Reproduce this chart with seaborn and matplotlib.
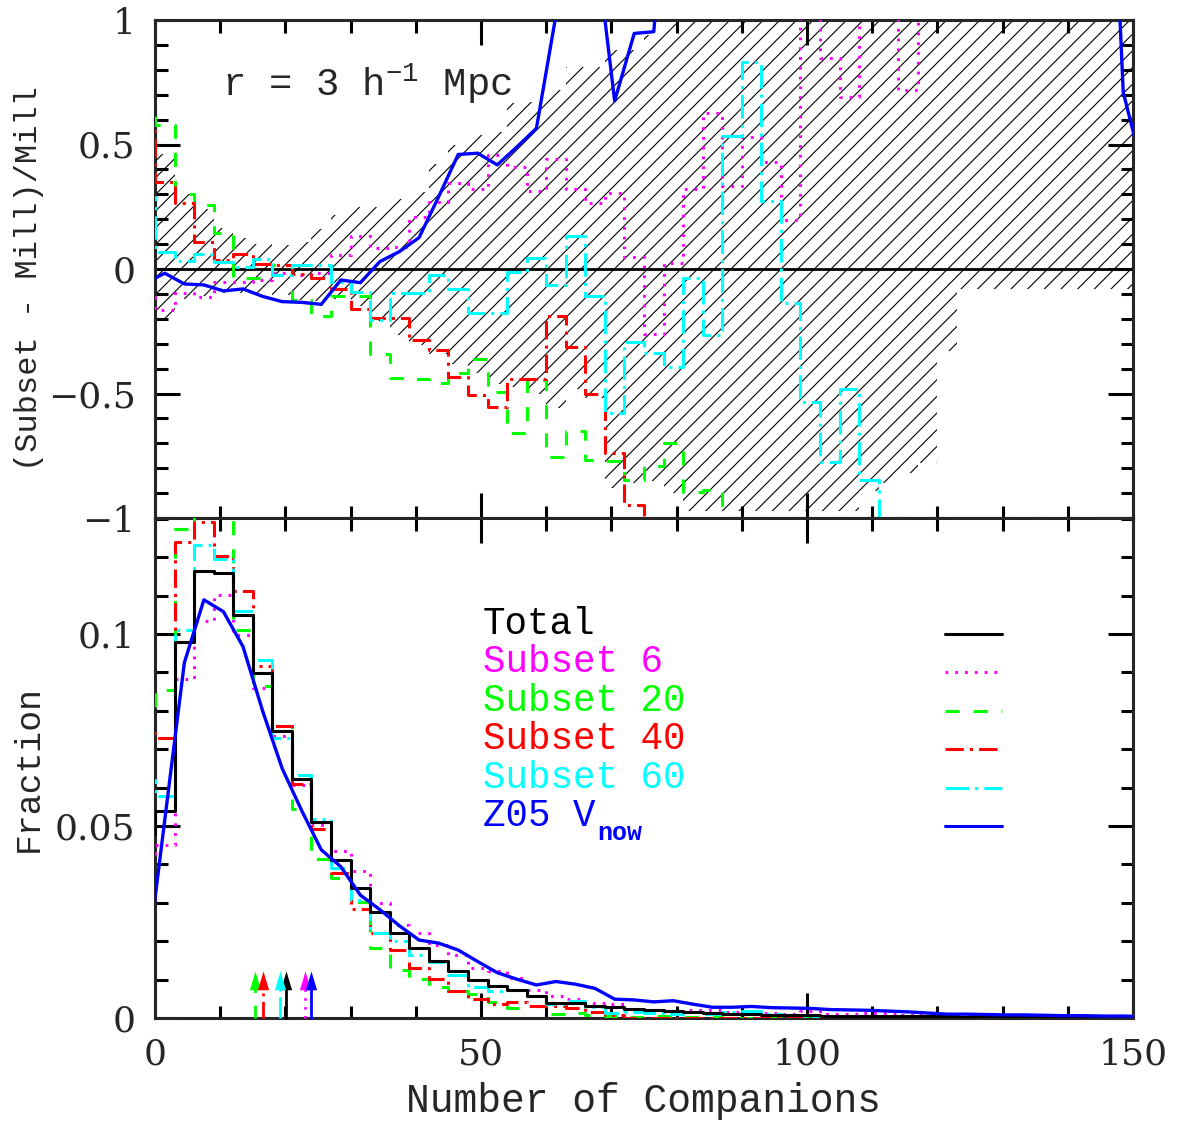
import numpy as np
import pandas as pd
import matplotlib
matplotlib.use("Agg")
import matplotlib.pyplot as plt
from matplotlib.ticker import MultipleLocator, FuncFormatter
import seaborn as sns

# ---------------------------------------------------------------- data
# histogram bins of width 3; the first bin sits just left of the origin
bin_width = 3
bin_start = np.arange(-3, 150, bin_width)

# fraction of galaxies per bin for the full sample
total_frac = [0.048, 0.054, 0.098, 0.1164, 0.116, 0.105, 0.0898, 0.0748, 0.0622, 0.0511,
              0.0411, 0.0338, 0.0277, 0.0222, 0.0182, 0.0149, 0.0123, 0.0099, 0.0084, 0.0073,
              0.0056, 0.0040, 0.0038, 0.0031, 0.0028, 0.0023, 0.0020, 0.0017, 0.0015, 0.0013,
              0.0011, 0.0010, 0.0009, 0.0008, 0.0007, 0.0006, 0.0006, 0.0005, 0.0005, 0.0004,
              0.0004, 0.0004, 0.0003, 0.0003, 0.0003, 0.0002, 0.0002, 0.0002, 0.0002, 0.0001,
              0.0001]

# (Subset - Mill)/Mill per bin
rel_sub6 = [-0.111, -0.165, -0.098, -0.111, -0.051, -0.051, -0.044, -0.017, -0.024, -0.017,
            0.056, 0.134, 0.083, 0.09, 0.21, 0.27, 0.344, 0.32, 0.458, 0.41,
            0.313, 0.442, 0.321, 0.264, 0.304, 0.05, -0.261, 0.023, 0.32, 0.625,
            0.335, 0.531, 0.431, 0.197, 1.5, 0.849, 0.692, 1.5, 1.5, 0.719,
            1.5, 1.5, 1.5, 1.5, 1.5, 1.5, 1.5, 1.5, 1.5, 1.5,
            1.5]
rel_sub20 = [0.645, 0.58, 0.30, 0.257, 0.143, -0.037, -0.037, 0.016, -0.124, -0.19,
             -0.11, -0.11, -0.343, -0.436, -0.44, -0.457, -0.419, -0.36, -0.493, -0.657,
             -0.446, -0.754, -0.649, -0.767, -0.77, -0.847, -0.791, -0.697, -0.897, -0.888,
             -1, -1, -1, -1, -1, -1, -1, -1, -1, -1,
             -1, -1, -1, -1, -1, -1, -1, -1, -1, -1,
             -1]
rel_sub40 = [0.578, 0.35, 0.264, 0.11, 0.036, 0.059, 0.02, 0.018, -0.02, -0.037,
             -0.082, -0.162, -0.198, -0.198, -0.285, -0.325, -0.432, -0.506, -0.555, -0.44,
             -0.44, -0.19, -0.312, -0.5, -0.738, -0.948, -1, -1, -1, -1,
             -1, -1, -1, -1, -1, -1, -1, -1, -1, -1,
             -1, -1, -1, -1, -1, -1, -1, -1, -1, -1,
             -1]
rel_sub60 = [0.29, 0.07, 0.032, 0.059, 0.03, 0.009, 0.039, -0.024, 0.016, 0.016,
             -0.051, -0.091, -0.205, -0.098, -0.098, -0.024, -0.082, -0.178, -0.178, -0.011,
             0.045, -0.064, 0.134, -0.11, -0.58, -0.292, -0.339, -0.395, -0.037, -0.265,
             0.535, 0.83, 0.273, -0.138, -0.533, -0.774, -0.483, -0.847, -1, -1,
             -1, -1, -1, -1, -1, -1, -1, -1, -1, -1,
             -1]

# scatter band of the relative difference (upper / lower edge per bin)
band_hi = [0.46, 0.46, 0.30, 0.24, 0.163, 0.123, 0.10, 0.097, 0.11, 0.16,
           0.217, 0.25, 0.25, 0.28, 0.31, 0.42, 0.50, 0.537, 0.55, 0.666,
           0.67, 0.72, 0.81, 0.81, 0.88, 0.88, 0.94, 1.5, 1.5, 1.5,
           1.5, 1.5, 1.5, 1.5, 1.5, 1.5, 1.5, 1.5, 1.5, 1.5,
           1.5, 1.5, 1.5, 1.5, 1.5, 1.5, 1.5, 1.5, 1.5, 1.5,
           1.5]
band_lo = [-0.21, -0.21, -0.12, -0.11, -0.095, -0.095, -0.10, -0.105, -0.125, -0.13,
           -0.12, -0.15, -0.21, -0.265, -0.305, -0.34, -0.38, -0.418, -0.46, -0.472,
           -0.5, -0.56, -0.48, -0.52, -0.88, -0.86, -0.85, -0.9, -0.97, -0.97,
           -0.97, -0.97, -0.97, -0.97, -0.97, -0.97, -0.97, -0.89, -0.86, -0.82,
           -0.78, -0.33, -0.08, -0.08, -0.08, -0.08, -0.08, -0.08, -0.08, -0.08,
           -0.08]

# Z05 V_now model, sampled at bin centres (-1.5 ... 151.5)
z05_frac = [0.0107, 0.0516, 0.0925, 0.1089, 0.1058, 0.0967, 0.080, 0.065, 0.054, 0.0438,
            0.0394, 0.032, 0.0282, 0.024, 0.0203, 0.0195, 0.0177, 0.0147, 0.0118, 0.0101,
            0.0086, 0.0095, 0.0088, 0.0077, 0.0049, 0.0047, 0.0042, 0.0045, 0.0036, 0.0028,
            0.0028, 0.0030, 0.0027, 0.0026, 0.0025, 0.0022, 0.0021, 0.0020, 0.0018, 0.0016,
            0.0013, 0.0010, 0.0010, 0.0009, 0.0008, 0.0008, 0.0007, 0.0006, 0.0006, 0.0005,
            0.0005, 0.0004]
z05_rel = [-0.057, -0.017, -0.06, -0.064, -0.088, -0.08, -0.11, -0.131, -0.134, -0.142,
           -0.044, -0.055, 0.03, 0.07, 0.126, 0.29, 0.46, 0.465, 0.418, 0.49,
           0.565, 1.02, 1.5, 1.33, 0.675, 0.946, 0.953, 1.9, 2.0, 2.0,
           2.0, 2.0, 2.0, 2.0, 2.0, 2.0, 2.0, 2.0, 2.0, 2.0,
           2.0, 2.0, 2.0, 2.0, 2.0, 2.0, 2.0, 2.0, 2.0, 2.5,
           0.71, 0.40]

# mean number of companions for each sample
mean_comp = {"Total": 20.1, "Subset 6": 23.0, "Subset 20": 15.4,
             "Subset 40": 16.5, "Subset 60": 19.1, "Z05": 24.0}

labels = ["Total", "Subset 6", "Subset 20", "Subset 40", "Subset 60"]
colors = {"Total": "black", "Subset 6": "#ff00ff", "Subset 20": "#00ff00",
          "Subset 40": "#ff0000", "Subset 60": "#00ffff", "Z05": "#0000ff"}
styles = {"Total": "-", "Subset 6": (0, (0.9, 2.3)), "Subset 20": (0, (4.6, 4.6)),
          "Subset 40": (0, (6, 2, 1, 2)), "Subset 60": (0, (7.7, 2, 1, 2)), "Z05": "-"}

# ---------------------------------------------------------------- style
sns.set_style("ticks")
plt.rcParams.update({
    "font.family": ["DejaVu Serif"],
    "mathtext.fontset": "custom",
    "mathtext.rm": "Liberation Mono",
    "mathtext.it": "Liberation Mono",
    "mathtext.bf": "Liberation Mono:bold",
    "hatch.linewidth": 0.8,
    "axes.linewidth": 2.2,
})
LABEL_FONT = "Liberation Mono"

edges = np.append(bin_start, bin_start[-1] + bin_width)
centres = np.append(bin_start + bin_width / 2, bin_start[-1] + 1.5 * bin_width)
total = np.array(total_frac)
rel = {"Subset 6": np.array(rel_sub6), "Subset 20": np.array(rel_sub20),
       "Subset 40": np.array(rel_sub40), "Subset 60": np.array(rel_sub60)}
frac = {"Total": total}
for k, r in rel.items():
    frac[k] = total * (1.0 + r)

fig = plt.figure(figsize=(11.77, 11.25), dpi=100)
W, H = 1177.0, 1125.0
ax_top = fig.add_axes([155 / W, 1 - 518 / H, 978 / W, 498 / H])
ax_bot = fig.add_axes([155 / W, 1 - 1018 / H, 978 / W, 500 / H])


def step_line(ax, values, key, lw=2.2):
    y = np.append(values, values[-1])
    sns.lineplot(x=edges, y=y, ax=ax, color=colors[key], linestyle=styles[key],
                 linewidth=lw, drawstyle="steps-post", estimator=None, sort=False,
                 zorder=3)


# ---------------------------------------------------------------- top panel
hi = np.append(band_hi, band_hi[-1])
lo = np.append(band_lo, band_lo[-1])
ax_top.fill_between(edges, lo, hi, step="post", facecolor="none", edgecolor="black",
                    hatch="//", linewidth=0, zorder=1)
ax_top.axhline(0, color="black", lw=2.0, zorder=2)
for key in ["Subset 6", "Subset 20", "Subset 40", "Subset 60"]:
    step_line(ax_top, rel[key], key)
sns.lineplot(x=centres, y=z05_rel, ax=ax_top, color=colors["Z05"], linewidth=2.4,
             estimator=None, sort=False, zorder=4)
ax_top.text(10.3, 0.695, r"r = 3 h$^{-1}$ Mpc", fontsize=28, family=LABEL_FONT,
            va="baseline", ha="left")

# ---------------------------------------------------------------- bottom panel
for key in ["Subset 6", "Subset 20", "Subset 40", "Subset 60", "Total"]:
    step_line(ax_bot, frac[key], key)
sns.lineplot(x=centres, y=z05_frac, ax=ax_bot, color=colors["Z05"], linewidth=2.4,
             estimator=None, sort=False, zorder=4)

# arrows marking the mean number of companions
tip = 0.0123
for key, xm in mean_comp.items():
    c = colors[key]
    ax_bot.plot([xm, xm], [0, tip - 0.002], color=c, linestyle=styles[key], lw=2.0,
                zorder=5, clip_on=False)
    ax_bot.plot([xm], [tip], marker=[(0, 0), (-0.3, -1), (0.3, -1), (0, 0)],
                markersize=27, color=c, markeredgewidth=0, zorder=5)

# key: coloured labels with line samples
key_rows = labels + ["Z05"]
key_y = [0.1, 0.09, 0.08, 0.07, 0.06, 0.05]
for key, yk in zip(key_rows, key_y):
    name = key if key != "Z05" else "Z05 V"
    t = ax_bot.text(50.3, yk, name, color=colors[key], fontsize=27, family=LABEL_FONT,
                    va="baseline", ha="left")
    if key == "Z05":
        ax_bot.annotate("now", xy=(1, 0), xycoords=t, xytext=(1, -4),
                        textcoords="offset points", color=colors[key], fontsize=18,
                        family=LABEL_FONT, weight="bold", va="baseline", ha="left")
    ax_bot.plot([121.2, 129.9], [yk, yk], color=colors[key], linestyle=styles[key],
                lw=2.2)

# ---------------------------------------------------------------- axes
def fmt(v, pos):
    if abs(v) < 1e-12:
        v = 0.0
    return f"{v:g}".replace("-", "\u2212")


for ax in (ax_top, ax_bot):
    ax.set_xlim(0, 150)
    ax.xaxis.set_major_locator(MultipleLocator(50))
    ax.xaxis.set_minor_locator(MultipleLocator(10))
    ax.yaxis.set_major_formatter(FuncFormatter(fmt))
    ax.xaxis.set_major_formatter(FuncFormatter(fmt))
    ax.tick_params(which="both", direction="in", top=True, right=True, width=2.2,
                   labelsize=26, color="black")
    ax.tick_params(which="major", length=18)
    ax.tick_params(which="minor", length=9)
    ax.tick_params(axis="x", pad=14)
    ax.tick_params(axis="y", pad=14)
    for s in ax.spines.values():
        s.set_linewidth(2.2)
        s.set_zorder(2.5)
    ax.set_facecolor("white")

ax_top.set_ylim(-1, 1)
ax_top.yaxis.set_major_locator(MultipleLocator(0.5))
ax_top.yaxis.set_minor_locator(MultipleLocator(0.1))
ax_top.tick_params(labelbottom=False)
ax_top.set_xlabel("")
ax_top.set_ylabel("(Subset - Mill)/Mill", fontsize=23, family=LABEL_FONT)
ax_top.yaxis.set_label_coords(-0.113, 0.48)

ax_bot.set_ylim(0, 0.1302)
ax_bot.yaxis.set_major_locator(MultipleLocator(0.05))
ax_bot.yaxis.set_minor_locator(MultipleLocator(0.01))
ax_bot.set_xlabel("Number of Companions", fontsize=28.5, family=LABEL_FONT)
ax_bot.xaxis.set_label_coords(0.5, -0.128)
ax_bot.set_ylabel("Fraction", fontsize=25, family=LABEL_FONT)
ax_bot.yaxis.set_label_coords(-0.113, 0.5)

fig.savefig("out.png", dpi=100)
